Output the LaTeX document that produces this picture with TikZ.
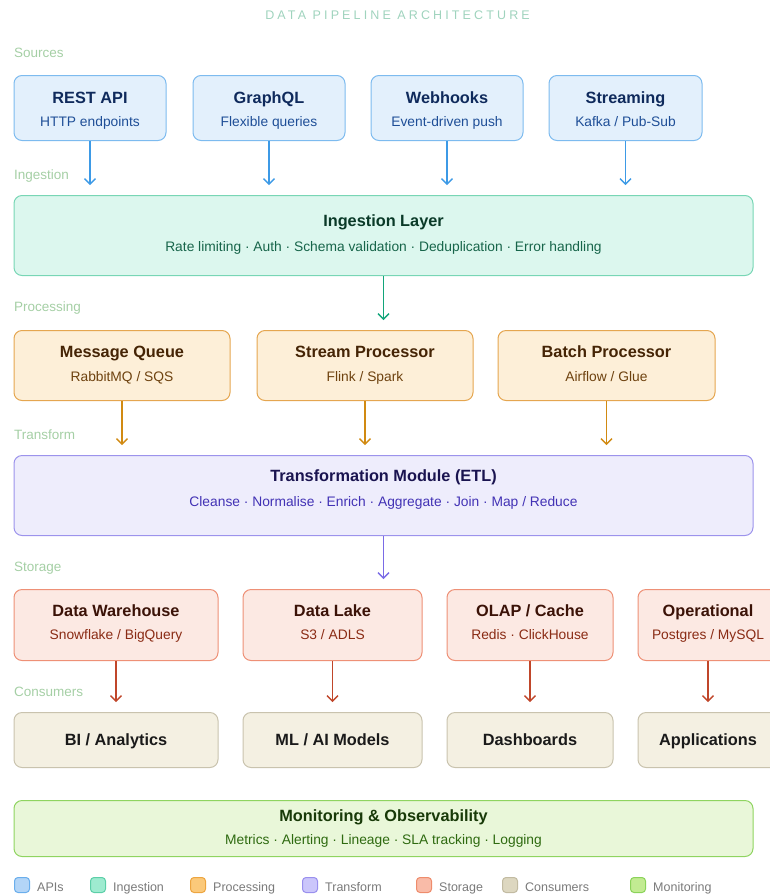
\documentclass[tikz,border=0pt]{standalone}
\usepackage{fontspec}
\setmainfont{Liberation Sans}
\newfontfamily\spacedfont[LetterSpace=25]{Liberation Sans}
\usetikzlibrary{calc,arrows.meta}

% palettes: Fill, Line, Title, Sub, Arrow
\definecolor{apiFill}{HTML}{E3F0FC}\definecolor{apiLine}{HTML}{7DBBEF}
\definecolor{apiTitle}{HTML}{0F2A5C}\definecolor{apiSub}{HTML}{1E4E97}
\definecolor{apiArrow}{HTML}{3D9AE6}
\definecolor{ingFill}{HTML}{DCF7EE}\definecolor{ingLine}{HTML}{78D6B5}
\definecolor{ingTitle}{HTML}{0A3A28}\definecolor{ingSub}{HTML}{17654A}
\definecolor{ingArrow}{HTML}{12A57A}
\definecolor{proFill}{HTML}{FDEFD8}\definecolor{proLine}{HTML}{E5A650}
\definecolor{proTitle}{HTML}{452405}\definecolor{proSub}{HTML}{6E420F}
\definecolor{proArrow}{HTML}{D18A12}
\definecolor{trfFill}{HTML}{EEEDFC}\definecolor{trfLine}{HTML}{9C93EC}
\definecolor{trfTitle}{HTML}{1A1450}\definecolor{trfSub}{HTML}{4232B5}
\definecolor{trfArrow}{HTML}{7A6BE6}
\definecolor{stoFill}{HTML}{FCE9E3}\definecolor{stoLine}{HTML}{EE9076}
\definecolor{stoTitle}{HTML}{3B1207}\definecolor{stoSub}{HTML}{8A2B14}
\definecolor{stoArrow}{HTML}{C0462A}
\definecolor{conFill}{HTML}{F4F0E2}\definecolor{conLine}{HTML}{C9C3AE}
\definecolor{conTitle}{HTML}{1A1A1A}
\definecolor{monFill}{HTML}{E9F7D9}\definecolor{monLine}{HTML}{8FD460}
\definecolor{monTitle}{HTML}{183A08}\definecolor{monSub}{HTML}{2E6A10}
% legend swatches
\definecolor{lgApiF}{HTML}{B3D5F7}\definecolor{lgApiL}{HTML}{6AAEEC}
\definecolor{lgIngF}{HTML}{9EEBD0}\definecolor{lgIngL}{HTML}{5CCFA8}
\definecolor{lgProF}{HTML}{FBC97A}\definecolor{lgProL}{HTML}{EDA540}
\definecolor{lgTrfF}{HTML}{CBC6FB}\definecolor{lgTrfL}{HTML}{9A90EE}
\definecolor{lgStoF}{HTML}{F9BBA8}\definecolor{lgStoL}{HTML}{EE8C6C}
\definecolor{lgConF}{HTML}{DDD7C0}\definecolor{lgConL}{HTML}{C2BBA2}
\definecolor{lgMonF}{HTML}{C2EB92}\definecolor{lgMonL}{HTML}{8BD35A}
\definecolor{headC}{HTML}{9FD3BD}
\definecolor{sectC}{HTML}{A5CFA5}
\definecolor{legC}{HTML}{7A7A7A}

\tikzset{
  x=1pt, y=-1pt,
  stage/.style={draw, rounded corners=8pt, line width=1pt, inner sep=0pt, anchor=north},
  ttl/.style={font=\fontsize{16.3}{19}\selectfont\bfseries, inner sep=0pt, anchor=base},
  sub/.style={font=\fontsize{13.8}{16}\selectfont, inner sep=0pt, anchor=base},
  flow/.style={line width=1.3pt, shorten >=10pt, -{Straight Barb[length=5.5pt,width=11pt]}},
  sect/.style={font=\fontsize{13.5}{16}\selectfont, text=sectC, anchor=base west, inner sep=0pt},
  swatch/.style={draw, line width=1pt, rounded corners=3.5pt, minimum width=15pt, minimum height=15pt, inner sep=0pt, anchor=north west},
  legtext/.style={font=\fontsize{12.5}{15}\selectfont, text=legC, anchor=base west, inner sep=0pt},
}

% gap between title and subtitle baselines
\def\subgap{23.5}
% box with a bold title and a subtitle: name, palette, centre x, top y, width, height, title offset, title, subtitle
\newcommand\duobox[9]{%
  \node[stage, draw=#2Line, fill=#2Fill, minimum width=#5pt, minimum height=#6pt] (#1) at (#3,#4) {};
  \node[ttl, text=#2Title] (#1-title) at ($(#1.north)+(0,#7)$) {#8};
  \node[sub, text=#2Sub] (#1-sub) at ($(#1.north)+(0,#7+\subgap)$) {#9};
}
% consumer box with one bold label
\newcommand\solobox[5]{%
  \node[stage, draw=conLine, fill=conFill, minimum width=#4pt, minimum height=55pt] (#1) at (#2,#3) {};
  \node[ttl, text=conTitle] (#1-title) at ($(#1.north)+(0,33)$) {#5};
}
% legend entry: name, swatch palette, x of swatch, x of text, label
\newcommand\legentry[5]{%
  \node[swatch, draw=#2L, fill=#2F] (#1) at (#3,877) {};
  \node[legtext] (#1-text) at (#4,891) {#5};
}

\begin{document}
\begin{tikzpicture}
\useasboundingbox (0,0) rectangle (770,895);
\clip (0,0) rectangle (770,895);

% heading
\node[font=\fontsize{12.5}{15}\selectfont\spacedfont, text=headC, inner sep=0pt, anchor=base] (heading) at (397.5,19) {DATA PIPELINE ARCHITECTURE};

% stage labels
\node[sect] (lbl-src) at (14,57) {Sources};
\node[sect] (lbl-ing) at (14,179) {Ingestion};
\node[sect] (lbl-pro) at (14,311) {Processing};
\node[sect] (lbl-trf) at (14,439) {Transform};
\node[sect] (lbl-sto) at (14,571.5) {Storage};
\node[sect] (lbl-con) at (14,696.5) {Consumers};

% sources
\duobox{rest}{api}{90}{75}{152}{65}{28}{REST API}{HTTP endpoints}
\duobox{gql}{api}{269}{75}{152}{65}{28}{GraphQL}{Flexible queries}
\duobox{hook}{api}{447}{75}{152}{65}{28}{Webhooks}{Event-driven push}
\duobox{strm}{api}{625.5}{75}{153}{65}{28}{Streaming}{Kafka / Pub-Sub}

% ingestion
\def\subgap{25.5}
\duobox{ing}{ing}{383.5}{195}{739}{80}{31}{Ingestion Layer}{Rate limiting · Auth · Schema validation · Deduplication · Error handling}
\def\subgap{23.5}

% processing
\duobox{mq}{pro}{122}{330}{216}{70}{27.5}{Message Queue}{RabbitMQ / SQS}
\duobox{sp}{pro}{365}{330}{216}{70}{27.5}{Stream Processor}{Flink / Spark}
\duobox{bp}{pro}{606.5}{330}{217}{70}{27.5}{Batch Processor}{Airflow / Glue}

% transformation
\def\subgap{24.5}
\duobox{etl}{trf}{383.5}{455}{739}{80}{26.5}{Transformation Module (ETL)}{Cleanse · Normalise · Enrich · Aggregate · Join · Map / Reduce}
\def\subgap{23.5}

% storage
\duobox{dw}{sto}{116}{589}{204}{71}{27}{Data Warehouse}{Snowflake / BigQuery}
\duobox{lake}{sto}{332.5}{589}{179}{71}{27}{Data Lake}{S3 / ADLS}
\duobox{olap}{sto}{530}{589}{166}{71}{27}{OLAP / Cache}{Redis · ClickHouse}
\duobox{ops}{sto}{708}{589}{140}{71}{27}{Operational}{Postgres / MySQL}

% consumers
\solobox{bi}{116}{712}{204}{BI / Analytics}
\solobox{ml}{332.5}{712}{179}{ML / AI Models}
\solobox{dash}{530}{712}{166}{Dashboards}
\solobox{apps}{708}{712}{140}{Applications}

% monitoring
\duobox{mon}{mon}{383.5}{800}{739}{56}{21}{Monitoring \& Observability}{Metrics · Alerting · Lineage · SLA tracking · Logging}

% connectors
\foreach \s in {rest,gql,hook,strm}
  \draw[flow, apiArrow] (\s.south) -- (\s.south |- ing.north);
\draw[flow, ingArrow] (ing.south) -- (ing.south |- sp.north);
\foreach \s in {mq,sp,bp}
  \draw[flow, proArrow] (\s.south) -- (\s.south |- etl.north);
\draw[flow, trfArrow] (etl.south) -- (etl.south |- lake.north);
\draw[flow, stoArrow] (dw.south) -- (bi.north);
\draw[flow, stoArrow] (lake.south) -- (ml.north);
\draw[flow, stoArrow] (olap.south) -- (dash.north);
\draw[flow, stoArrow] (ops.south) -- (apps.north);

% legend
\legentry{lg-api}{lgApi}{14}{37}{APIs}
\legentry{lg-ing}{lgIng}{90}{113}{Ingestion}
\legentry{lg-pro}{lgPro}{190}{213}{Processing}
\legentry{lg-trf}{lgTrf}{302}{325}{Transform}
\legentry{lg-sto}{lgSto}{416}{439}{Storage}
\legentry{lg-con}{lgCon}{502}{525}{Consumers}
\legentry{lg-mon}{lgMon}{630}{653}{Monitoring}
\end{tikzpicture}
\end{document}
